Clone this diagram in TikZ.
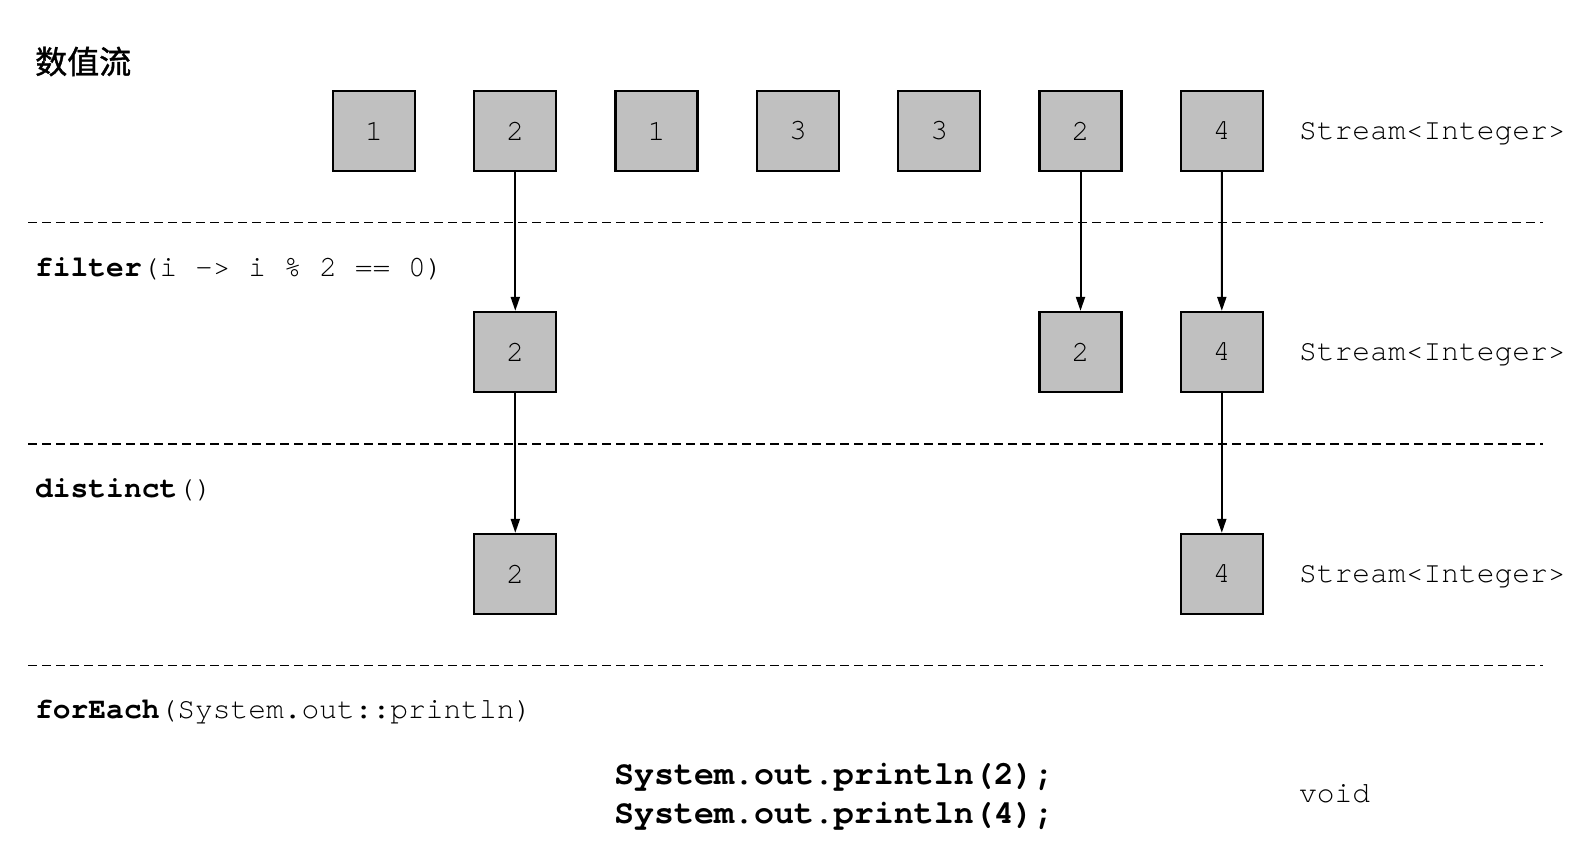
\documentclass[tikz,border=0pt]{standalone}
\usepackage{fontspec}
\setmonofont[Ligatures={NoCommon,NoRequired}]{TeX Gyre Cursor}
\newfontfamily\cjk[FakeBold=1.2]{Noto Sans CJK SC}
\usetikzlibrary{arrows.meta}
\definecolor{boxgray}{RGB}{192,192,192}
\begin{document}
\begin{tikzpicture}[x=1pt,y=-1pt,
  elem/.style={draw, line width=2.3pt, fill=boxgray, minimum width=82pt, minimum height=80pt, inner sep=0pt, font=\fontsize{29.6}{32}\selectfont\ttfamily},
  sepline/.style={dash pattern=on 9pt off 5pt, line width=1.8pt},
  flow/.style={-{Triangle[length=14pt,width=9pt]}, line width=2pt},
  code/.style={anchor=base west, inner sep=0pt, font=\fontsize{29.6}{32}\selectfont\ttfamily},
  bigcode/.style={anchor=base west, inner sep=0pt, font=\fontsize{33.3}{36}\selectfont\ttfamily\bfseries},
]
\useasboundingbox[fill=white] (0,0) rectangle (1579,855);

% separators
\foreach \y/\n in {222.5/1,444/2,665.5/3} {
  \coordinate (s\n l) at (28,\y);
  \coordinate (s\n r) at (1543,\y);
  \draw[sepline] (s\n l) -- (s\n r);
}

% title
\node[anchor=west, inner sep=0pt, font=\fontsize{32}{36}\selectfont\cjk] (title) at (35,61.5) {数值流};

% row 1
\foreach \v [count=\i] in {1,2,1,3,3,2,4} {
  \node[elem] (a\i) at ({374+141.3*(\i-1)},131) {\v};
}
% row 2
\node[elem] (b2) at (515.3,352) {2};
\node[elem] (b6) at (1080.5,352) {2};
\node[elem] (b7) at (1221.8,352) {4};
% row 3
\node[elem] (c2) at (515.3,574) {2};
\node[elem] (c7) at (1221.8,574) {4};

% arrows
\draw[flow] (a2) -- (b2);
\draw[flow] (a6) -- (b6);
\draw[flow] (a7) -- (b7);
\draw[flow] (b2) -- (c2);
\draw[flow] (b7) -- (c7);

% types
\node[code] (t1) at (1299,139) {Stream<Integer>};
\node[code] (t2) at (1299,360) {Stream<Integer>};
\node[code] (t3) at (1299,582) {Stream<Integer>};
\node[code] (t4) at (1299,802) {void};

% operations
\node[code] (op1) at (35,276.5) {\textbf{filter}(i -> i \% 2 == 0)};
\node[code] (op2) at (35,497) {\textbf{distinct}()};
\node[code] (op3) at (35,718) {\textbf{forEach}(System.out::println)};

% output
\node[bigcode] (out1) at (614,784) {System.out.println(2);};
\node[bigcode] (out2) at (614,823) {System.out.println(4);};
\end{tikzpicture}
\end{document}
